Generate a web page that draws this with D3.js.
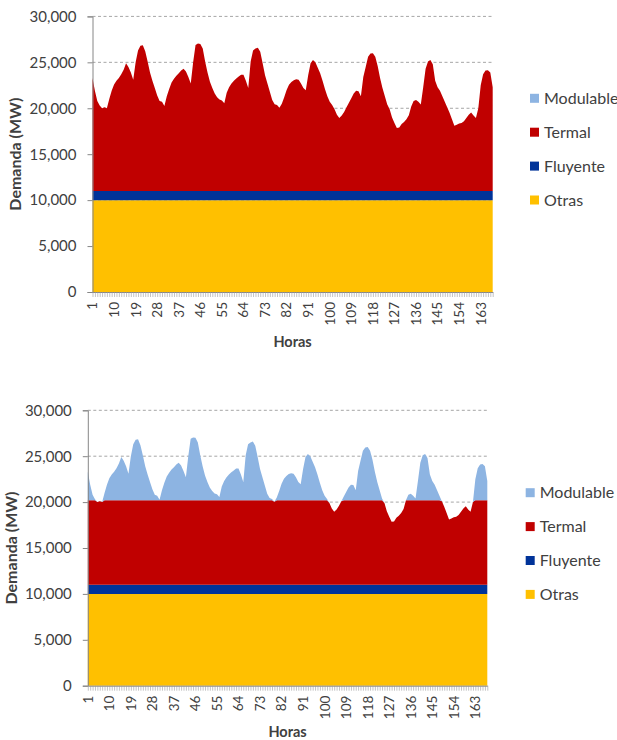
<!DOCTYPE html>
<html>
<head>
<meta charset="utf-8">
<script src="https://d3js.org/d3.v7.min.js"></script>
<style>
    body { margin: 0; background: #fff; }
    svg text { font-family: Lato, "Liberation Sans", sans-serif; fill: #404040; }
</style>
</head>
<body>
<svg id="chart" width="617" height="740"></svg>
<script>
// categorias: hora de la semana
var horas = d3.range(1, 169);
var etiquetasHoras = [1, 10, 19, 28, 37, 46, 55, 64, 73, 82, 91, 100, 109, 118, 127, 136, 145, 154, 163];
var ticksDemanda = [0, 5000, 10000, 15000, 20000, 25000, 30000];

// demanda horaria (MW)
var demanda = [
    23300, 21900, 20800, 20300, 20000, 20100, 20000, 21000, 21900, 22600, 23000, 23300,
    23700, 24200, 24900, 24500, 23900, 23100, 25000, 26300, 26800, 26850, 26200, 25100,
    23900, 23000, 22200, 21400, 20800, 20700, 20250, 21300, 22100, 22800, 23200, 23550,
    23800, 24100, 24300, 24000, 23400, 22700, 25000, 26900, 27050, 27000, 26500, 25100,
    23900, 22900, 22200, 21600, 21200, 20950, 20850, 20550, 21700, 22300, 22700, 23000,
    23250, 23450, 23650, 23650, 23000, 22200, 25100, 26300, 26500, 26600, 26150, 24900,
    23600, 22700, 21800, 20900, 20450, 20350, 20050, 20500, 21200, 22000, 22550, 22850,
    23050, 23150, 23100, 22700, 22200, 21950, 23600, 24900, 25250, 25000, 24400, 23800,
    23000, 22100, 21300, 20700, 20350, 19900, 19300, 18950, 19200, 19600, 20100, 20600,
    21100, 21600, 21900, 21850, 21300, 23400, 24500, 25600, 25950, 26000, 25600, 24600,
    23300, 22200, 21300, 20400, 19900, 19000, 18400, 17850, 17900, 18300, 18500, 18800,
    19250, 20200, 20800, 20900, 20700, 20400, 22300, 24300, 25100, 25250, 24800, 23000,
    22300, 21900, 21300, 20700, 20100, 19500, 18800, 18100, 18200, 18350, 18400, 18600,
    18950, 19300, 19550, 19200, 18950, 20000, 22500, 23700, 24100, 24150, 23900, 22300
];

var otras = 10000;      // MW constantes
var fluyente = 1000;    // MW constantes
var topeTermal = 20200; // limite termal en el segundo caso

var series = ["Otras", "Fluyente", "Termal", "Modulable"];
var colores = { Otras: "#FFC000", Fluyente: "#003399", Termal: "#C00000", Modulable: "#8DB4E2" };

function filas(conTope) {
    return horas.map(function(h, i) {
        var d = demanda[i];
        var techo = conTope ? Math.min(d, topeTermal) : d;
        return {
            hora: h,
            Otras: otras,
            Fluyente: fluyente,
            Termal: techo - otras - fluyente,
            Modulable: d - techo
        };
    });
}

var paneles = [
    { datos: filas(false), left: 92.5, right: 492.7, top: 16.4, bottom: 292, ylabX: 15, legX: 530, legY: 98.3, horasY: 346.5 },
    { datos: filas(true), left: 87.8, right: 487.3, top: 410.3, bottom: 685.7, ylabX: 11.7, legX: 525.7, legY: 492.7, horasY: 737 }
];

var svg = d3.select("#chart");
var stack = d3.stack().keys(series);

paneles.forEach(function(p) {
    var g = svg.append("g");

    var x = d3.scaleLinear().domain([1, 168]).range([p.left, p.right]);
    var y = d3.scaleLinear().domain([0, 30000]).range([p.bottom, p.top]);

    // lineas de guia
    g.selectAll(".grid")
        .data(ticksDemanda.slice(1))
        .enter().append("line")
        .attr("x1", p.left).attr("x2", p.right)
        .attr("y1", function(d) { return y(d); })
        .attr("y2", function(d) { return y(d); })
        .attr("stroke", "#a6a6a6")
        .attr("stroke-dasharray", "3,2.5")
        .attr("stroke-width", 1);

    var area = d3.area()
        .x(function(d) { return x(d.data.hora); })
        .y0(function(d) { return y(d[0]); })
        .y1(function(d) { return y(d[1]); });

    g.selectAll(".capa")
        .data(stack(p.datos))
        .enter().append("path")
        .attr("d", area)
        .attr("fill", function(s) { return colores[s.key]; });

    // eje y
    var ejeY = g.append("g")
        .attr("transform", "translate(" + p.left + ",0)")
        .call(d3.axisLeft(y).tickValues(ticksDemanda).tickFormat(d3.format(",")).tickSize(5).tickPadding(11));
    ejeY.select(".domain").attr("stroke", "#868686");
    ejeY.selectAll(".tick line").attr("stroke", "#868686");
    ejeY.selectAll("text").style("font-size", "15px").attr("fill", "#404040");

    // eje x: marca en cada hora
    var ejeX = g.append("g")
        .attr("transform", "translate(0," + p.bottom + ")")
        .call(d3.axisBottom(x).tickValues(horas).tickFormat("").tickSize(5).tickSizeOuter(0));
    ejeX.select(".domain").attr("stroke", "#868686");
    ejeX.selectAll(".tick line").attr("stroke", "#9a9a9a").attr("stroke-width", 0.6);

    g.selectAll(".hlab")
        .data(etiquetasHoras)
        .enter().append("text")
        .attr("transform", function(d) { return "translate(" + x(d) + "," + (p.bottom + 10) + ") rotate(-90)"; })
        .attr("dy", "0.36em")
        .attr("text-anchor", "end")
        .style("font-size", "13.5px")
        .text(function(d) { return d; });

    g.append("text")
        .attr("transform", "translate(" + p.ylabX + "," + ((p.top + p.bottom) / 2) + ") rotate(-90)")
        .attr("dy", "0.36em")
        .attr("text-anchor", "middle")
        .style("font-size", "16px")
        .style("font-weight", "bold")
        .text("Demanda (MW)");

    g.append("text")
        .attr("x", (p.left + p.right) / 2)
        .attr("y", p.horasY)
        .attr("text-anchor", "middle")
        .style("font-size", "14.5px")
        .style("font-weight", "bold")
        .text("Horas");

    // leyenda
    var leg = g.selectAll(".leg")
        .data(series.slice().reverse())
        .enter().append("g")
        .attr("transform", function(d, i) { return "translate(" + p.legX + "," + (p.legY + i * 33.9) + ")"; });
    leg.append("rect")
        .attr("x", 0).attr("y", -4.5)
        .attr("width", 9).attr("height", 9)
        .attr("fill", function(d) { return colores[d]; });
    leg.append("text")
        .attr("x", 14)
        .attr("dy", "0.36em")
        .style("font-size", "16px")
        .text(function(d) { return d; });
});
</script>
</body>
</html>
